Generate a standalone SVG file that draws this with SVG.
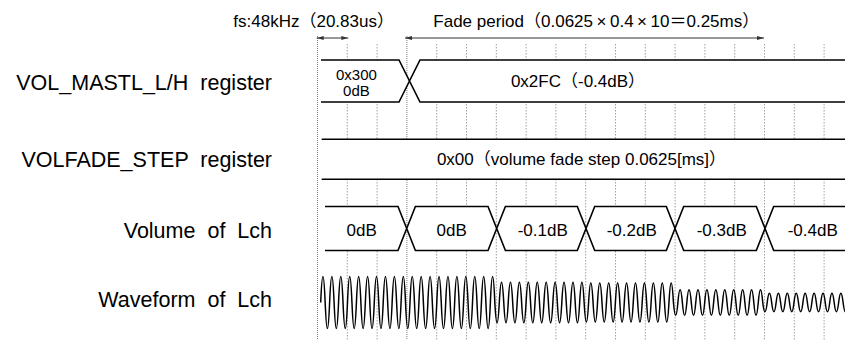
<svg xmlns="http://www.w3.org/2000/svg" width="845" height="340" viewBox="0 0 845 340">
<style>
  .lbl { font-family: "Liberation Sans", Arial, sans-serif; font-size: 21.5px; fill: #000; text-anchor: end; word-spacing: 6px; }
  .txt { font-family: "Liberation Sans", Arial, "Noto Sans CJK JP", sans-serif; font-size: 17px; fill: #000; }
  .mid { text-anchor: middle; }
  .small { font-size: 15px; }
  .grid line { stroke: #a0a0a0; stroke-width: 1; stroke-dasharray: 1.5 1.5; }
  .grid line.ref { stroke: #808080; stroke-dasharray: 1 1; }
  .fill { fill: #fff; stroke: none; }
  .edge { fill: none; stroke: #000; stroke-width: 1.6; stroke-linejoin: miter; }
  .box { fill: #fff; stroke: #000; stroke-width: 1.6; stroke-linejoin: miter; }
  .dim { stroke: #333; stroke-width: 1; fill: none; marker-start: url(#ah); marker-end: url(#ah); }
  .wave { fill: none; stroke: #000; stroke-width: 1.5; stroke-linejoin: round; }
</style>
<defs>
  <marker id="ah" viewBox="0 0 7 4" refX="7" refY="2" markerWidth="7" markerHeight="4" orient="auto-start-reverse" markerUnits="userSpaceOnUse">
    <path d="M0,0 L7,2 L0,4 Z" fill="#333"/>
  </marker>
</defs>
<rect width="845" height="340" fill="#fff"/>

<g id="grid" class="grid">
  <line class="ref" x1="317.5" y1="36" x2="317.5" y2="340"/>
  <line x1="347.3" y1="44" x2="347.3" y2="340"/>
  <line x1="377.1" y1="44" x2="377.1" y2="340"/>
  <line class="ref" x1="406.9" y1="36" x2="406.9" y2="340"/>
  <line x1="436.7" y1="44" x2="436.7" y2="340"/>
  <line x1="466.5" y1="44" x2="466.5" y2="340"/>
  <line x1="496.3" y1="44" x2="496.3" y2="340"/>
  <line x1="526.1" y1="44" x2="526.1" y2="340"/>
  <line x1="555.9" y1="44" x2="555.9" y2="340"/>
  <line x1="585.7" y1="44" x2="585.7" y2="340"/>
  <line x1="615.5" y1="44" x2="615.5" y2="340"/>
  <line x1="645.3" y1="44" x2="645.3" y2="340"/>
  <line x1="675.1" y1="44" x2="675.1" y2="340"/>
  <line x1="704.9" y1="44" x2="704.9" y2="340"/>
  <line x1="734.7" y1="44" x2="734.7" y2="340"/>
  <line x1="764.5" y1="44" x2="764.5" y2="340"/>
  <line x1="794.3" y1="44" x2="794.3" y2="340"/>
  <line x1="824.1" y1="44" x2="824.1" y2="340"/>
</g>

<g id="labels">
  <g id="label-mastl"><text class="lbl" x="272" y="89.5">VOL_MASTL_L/H register</text></g>
  <g id="label-volfade"><text class="lbl" x="272" y="166.7">VOLFADE_STEP register</text></g>
  <g id="label-volume"><text class="lbl" x="272" y="237.7">Volume of Lch</text></g>
  <g id="label-waveform"><text class="lbl" x="272" y="307.3">Waveform of Lch</text></g>
</g>

<g id="title-fs"><text class="txt" x="233.3" y="27.3">fs:48kHz（20.83us）</text></g>
<g id="title-fade"><text class="txt" x="433.3" y="27.3">Fade period（0.0625<tspan dx="3.5">×</tspan><tspan dx="3.5">0.4</tspan><tspan dx="3.5">×</tspan><tspan dx="3.5">10＝0.25ms）</tspan></text></g>

<g id="mastl-0x300">
  <path class="fill" d="M321,60 H399 L409.5,81 L399,102 H321 Z"/>
  <path class="edge" d="M321,60 H399 L409.5,81 L399,102 H321"/>
  <text class="txt mid small" x="356.4" y="79.5">0x300</text>
  <text class="txt mid small" x="356.4" y="96">0dB</text>
</g>
<g id="mastl-0x2fc">
  <path class="fill" d="M846,60 H420 L409.5,81 L420,102 H846 Z"/>
  <path class="edge" d="M846,60 H420 L409.5,81 L420,102 H846"/>
  <text class="txt mid" x="578" y="87">0x2FC（-0.4dB）</text>
</g>

<g id="volfade-0x00">
  <rect class="fill" x="321.7" y="139.3" width="525" height="40"/>
  <path class="edge" d="M321.7,139.3 H846 M321.7,179.3 H846"/>
  <text class="txt mid" x="581.5" y="165">0x00（volume fade step 0.0625[ms]）</text>
</g>

<g id="vol-1">
  <path class="fill" d="M325,206.5 H398 L406.7,228.5 L398,250.5 H325 Z"/>
  <path class="edge" d="M325,206.5 H398 L406.7,228.5 L398,250.5 H325"/>
  <text class="txt mid" x="361.7" y="235.5">0dB</text>
</g>
<g id="vol-2">
  <path class="box" d="M415.4,206.5 H488 L496.7,228.5 L488,250.5 H415.4 L406.7,228.5 Z"/>
  <text class="txt mid" x="451.7" y="235.5">0dB</text>
</g>
<g id="vol-3">
  <path class="box" d="M505.4,206.5 H577.3 L586,228.5 L577.3,250.5 H505.4 L496.7,228.5 Z"/>
  <text class="txt mid" x="542.7" y="235.5">-0.1dB</text>
</g>
<g id="vol-4">
  <path class="box" d="M594.7,206.5 H666.3 L675,228.5 L666.3,250.5 H594.7 L586,228.5 Z"/>
  <text class="txt mid" x="631.7" y="235.5">-0.2dB</text>
</g>
<g id="vol-5">
  <path class="box" d="M683.7,206.5 H756.3 L765,228.5 L756.3,250.5 H683.7 L675,228.5 Z"/>
  <text class="txt mid" x="721.7" y="235.5">-0.3dB</text>
</g>
<g id="vol-6">
  <path class="fill" d="M846,206.5 H773.7 L765,228.5 L773.7,250.5 H846 Z"/>
  <path class="edge" d="M846,206.5 H773.7 L765,228.5 L773.7,250.5 H846"/>
  <text class="txt mid" x="812.7" y="235.5">-0.4dB</text>
</g>

<g id="waveform">
  <path class="wave" d="M320.7,302.5 q2.2325,-52 4.465,0
  t4.465,0 t4.465,0 t4.465,0 t4.465,0 t4.465,0 t4.465,0 t4.465,0 t4.465,0 t4.465,0 t4.465,0
  t4.465,0 t4.465,0 t4.465,0 t4.465,0 t4.465,0 t4.465,0 t4.465,0 t4.465,0 t4.465,0 t4.465,0
  t4.465,0 t4.465,0 t4.465,0 t4.465,0 t4.465,0 t4.465,0 t4.465,0 t4.465,0 t4.465,0 t4.465,0
  t4.465,0 t4.465,0 t4.465,0 t4.465,0 t4.465,0 t4.465,0 t4.465,0 t4.465,0
  q2.2325,40.6 4.465,0
  t4.465,0 t4.465,0 t4.465,0 t4.465,0 t4.465,0 t4.465,0 t4.465,0 t4.465,0 t4.465,0 t4.465,0
  t4.465,0 t4.465,0 t4.465,0 t4.465,0 t4.465,0 t4.465,0 t4.465,0 t4.465,0 t4.465,0
  q2.2325,39 4.465,0
  t4.465,0 t4.465,0 t4.465,0 t4.465,0 t4.465,0 t4.465,0 t4.465,0 t4.465,0 t4.465,0 t4.465,0
  t4.465,0 t4.465,0 t4.465,0 t4.465,0 t4.465,0 t4.465,0 t4.465,0 t4.465,0 t4.465,0
  q2.2325,25.6 4.465,0
  t4.465,0 t4.465,0 t4.465,0 t4.465,0 t4.465,0 t4.465,0 t4.465,0 t4.465,0 t4.465,0 t4.465,0
  t4.465,0 t4.465,0 t4.465,0 t4.465,0 t4.465,0 t4.465,0 t4.465,0 t4.465,0 t4.465,0
  q2.2325,18.6 4.465,0
  t4.465,0 t4.465,0 t4.465,0 t4.465,0 t4.465,0 t4.465,0 t4.465,0 t4.465,0 t4.465,0 t4.465,0
  t4.465,0 t4.465,0 t4.465,0 t4.465,0 t4.465,0 t4.465,0 t4.465,0 t4.465,0"/>
</g>

<g id="connectors">
  <line class="dim" x1="316.7" y1="38" x2="348.3" y2="38"/>
  <line class="dim" x1="405" y1="38" x2="764" y2="38"/>
</g>
</svg>
